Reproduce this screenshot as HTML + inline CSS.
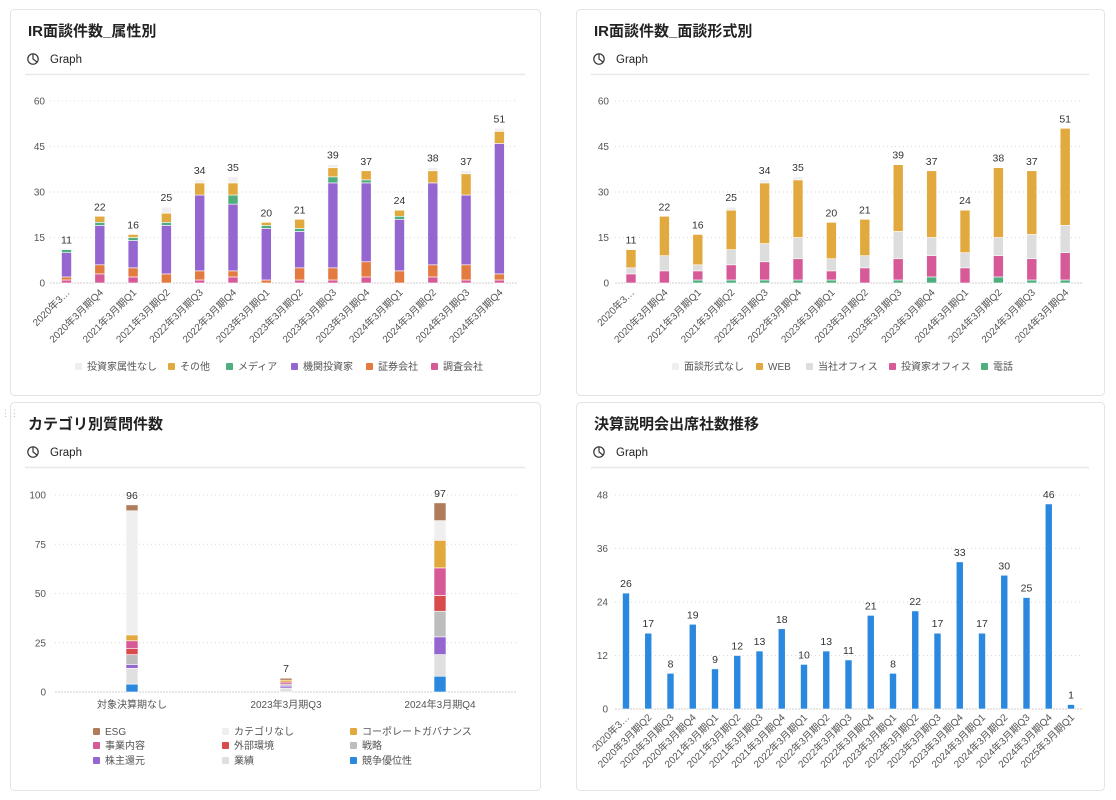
<!DOCTYPE html>
<html><head><meta charset="utf-8">
<style>
html,body{margin:0;padding:0;background:#fff;}
svg{display:block;font-family:"Liberation Sans","Noto Sans CJK JP",sans-serif;}
</style></head>
<body>
<svg id="s" width="1116" height="800" viewBox="0 0 1116 800" xmlns="http://www.w3.org/2000/svg"></svg>
<script>
var NS="http://www.w3.org/2000/svg",S=document.getElementById('s');
function el(t,a,txt){var e=document.createElementNS(NS,t);for(var k in a)e.setAttribute(k,a[k]);if(txt!=null)e.textContent=txt;S.appendChild(e);return e;}
function card(x1,y1,x2,y2,title,ty){
 el('rect',{x:x1+.5,y:y1+.5,width:x2-x1,height:y2-y1,rx:4,fill:'#fff',stroke:'#e3e3e3'});
 el('text',{x:x1+18,y:ty,'font-size':15,'font-weight':'bold',fill:'#222'},title);
 var gy=ty+27;
 el('circle',{cx:x1+23,cy:gy-4,r:5.2,fill:'none',stroke:'#333','stroke-width':1.2});
 el('path',{d:'M'+(x1+23)+' '+(gy-9)+' V'+(gy-4)+' L'+(x1+27)+' '+(gy-1),fill:'none',stroke:'#333','stroke-width':1.2});
 el('text',{x:x1+40,y:gy,'font-size':11.5,fill:'#222'},'Graph');
 el('line',{x1:x1+15,x2:x2-15,y1:gy+11.5,y2:gy+11.5,stroke:'#e8e8e8','stroke-width':1.5});
}
function axis(gx1,gx2,y0,ppu,ticks,lx){
 ticks.forEach(function(t){var y=y0-t*ppu;
  el('line',{x1:gx1,x2:gx2,y1:y,y2:y,stroke:t==0?'#cfcfcf':'#dadada','stroke-dasharray':t==0?'2,1':'1,3','stroke-width':1});
  el('text',{x:lx,y:y+3.5,'font-size':10,fill:'#555','text-anchor':'end'},String(t));});
}
function bars(centers,w,y0,ppu,data,colors,totals){
 data.forEach(function(segs,i){var acc=0,cx=centers[i];
  segs.forEach(function(v,j){if(v>0){var yb=y0-acc*ppu,h=v*ppu;
   el('rect',{x:cx-w/2,y:yb-h,width:w,height:h,fill:colors[j],stroke:'#fff','stroke-width':0.6});}acc+=v;});
  var tot=totals?totals[i]:acc;
  el('text',{x:cx,y:y0-acc*ppu-6,'font-size':10.5,fill:'#333','text-anchor':'middle'},String(tot));
 });
}
function xlabels(centers,labels,y){
 labels.forEach(function(l,i){el('text',{transform:'translate('+(centers[i]+4)+','+y+') rotate(-45)','font-size':10,fill:'#555','text-anchor':'end'},l);});
}
function legend(items,y){items.forEach(function(it){
 el('rect',{x:it[0],y:y-7,width:7,height:7,rx:1,fill:it[2]});
 el('text',{x:it[0]+12,y:y,'font-size':10,fill:'#555'},it[1]);});}

var C={pink:'#d65a98',orange:'#e37a40',purple:'#9565d0',green:'#4fae7e',yellow:'#e2aa3e',none:'#efefef',gray:'#dddddd',blue:'#2a88de',brown:'#b07c5c',red:'#d94b4b',strat:'#bdbdbd',perf:'#e0e0e0'};

// Chart 1
card(10,9,540,395,'IR面談件数_属性別',36);
var c1=[];for(var i=0;i<14;i++)c1.push(66.5+i*33.3);
axis(50,517,283,182/60,[0,15,30,45,60],45);
var d1=[[1,1,8,1,0,0],[3,3,13,1,2,0],[2,3,9,1,1,0],[0,3,16,1,3,2],[1,3,25,0,4,1],[2,2,22,3,4,2],[0,1,17,1,1,0],[1,4,12,1,3,0],[1,4,28,2,3,1],[2,5,26,1,3,0],[0,4,17,1,2,0],[2,4,27,0,4,1],[1,5,23,0,7,1],[1,2,43,0,4,1]];
bars(c1,10,283,182/60,d1,[C.pink,C.orange,C.purple,C.green,C.yellow,C.none]);
var L1=['2020年3…','2020年3月期Q4','2021年3月期Q1','2021年3月期Q2','2022年3月期Q3','2022年3月期Q4','2023年3月期Q1','2023年3月期Q2','2023年3月期Q3','2023年3月期Q4','2024年3月期Q1','2024年3月期Q2','2024年3月期Q3','2024年3月期Q4'];
xlabels(c1,L1,293);
legend([[75,'投資家属性なし',C.none],[168,'その他',C.yellow],[226,'メディア',C.green],[291,'機関投資家',C.purple],[366,'証券会社',C.orange],[431,'調査会社',C.pink]],370);

// Chart 2
card(576,9,1104,395,'IR面談件数_面談形式別',36);
var c2=[];for(var i=0;i<14;i++)c2.push(631+i*33.4);
axis(615,1082,283,182/60,[0,15,30,45,60],609);
var d2=[[0,3,2,6,0],[0,4,5,13,0],[1,3,2,10,0],[1,5,5,13,1],[1,6,6,20,1],[1,7,7,19,1],[1,3,4,12,0],[0,5,4,12,0],[1,7,9,22,0],[2,7,6,22,0],[0,5,5,14,0],[2,7,6,23,0],[1,7,8,21,0],[1,9,9,32,0]];
bars(c2,10,283,182/60,d2,[C.green,C.pink,C.gray,C.yellow,C.none]);
xlabels(c2,L1,293);
legend([[672,'面談形式なし',C.none],[756,'WEB',C.yellow],[806,'当社オフィス',C.gray],[889,'投資家オフィス',C.pink],[981,'電話',C.green]],370);

// Chart 3
card(10,402,540,790,'カテゴリ別質問件数',429);
el('text',{x:1,y:416,'font-size':9,fill:'#bbb'},'⋮⋮');
var c3=[132,286,440];
axis(55,517,692,197/100,[0,25,50,75,100],46);
var d3=[[4,8,2,5,3,4,3,63,3],[0,2,1,1,0,1,1,0,1],[8,11,9,13,8,14,14,10,9]];
bars(c3,12,692,197/100,d3,[C.blue,C.perf,C.purple,C.strat,C.red,C.pink,C.yellow,C.none,C.brown],[96,7,97]);
[['対象決算期なし',132],['2023年3月期Q3',286],['2024年3月期Q4',440]].forEach(function(a){el('text',{x:a[1],y:708,'font-size':10,fill:'#555','text-anchor':'middle'},a[0]);});
legend([[93,'ESG',C.brown],[222,'カテゴリなし',C.none],[350,'コーポレートガバナンス',C.yellow]],735);
legend([[93,'事業内容',C.pink],[222,'外部環境',C.red],[350,'戦略',C.strat]],749);
legend([[93,'株主還元',C.purple],[222,'業績',C.perf],[350,'競争優位性',C.blue]],764);

// Chart 4
card(576,402,1104,790,'決算説明会出席社数推移',429);
var c4=[];for(var i=0;i<21;i++)c4.push(626+i*22.25);
axis(615,1082,709,214/48,[0,12,24,36,48],608);
var v4=[26,17,8,19,9,12,13,18,10,13,11,21,8,22,17,33,17,30,25,46,1];
bars(c4,7,709,214/48,v4.map(function(v){return [v];}),[C.blue]);
var L4=['2020年3…','2020年3月期Q2','2020年3月期Q3','2020年3月期Q4','2021年3月期Q1','2021年3月期Q2','2021年3月期Q3','2021年3月期Q4','2022年3月期Q1','2022年3月期Q2','2022年3月期Q3','2022年3月期Q4','2023年3月期Q1','2023年3月期Q2','2023年3月期Q3','2023年3月期Q4','2024年3月期Q1','2024年3月期Q2','2024年3月期Q3','2024年3月期Q4','2025年3月期Q1'];
xlabels(c4,L4,718);
</script>
</body></html>
